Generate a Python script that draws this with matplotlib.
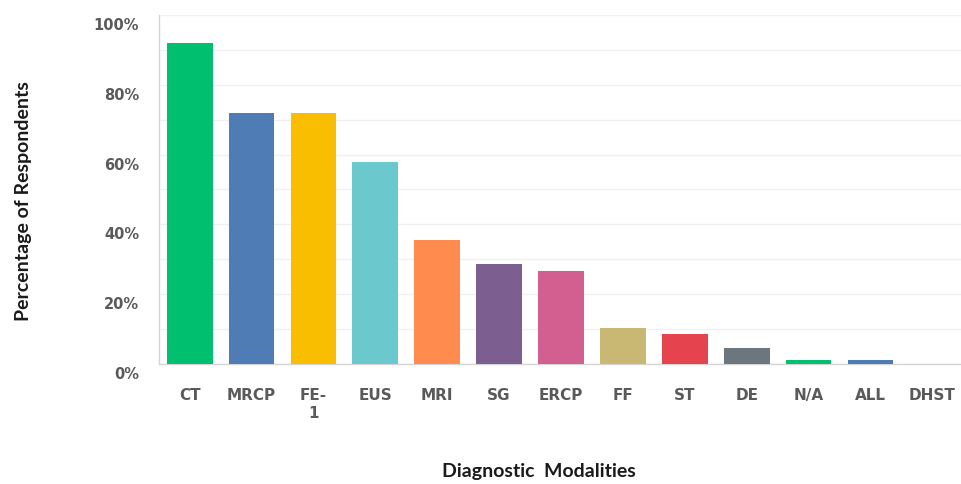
import matplotlib
matplotlib.use("Agg")
import matplotlib.pyplot as plt
import matplotlib.transforms as mtransforms

categories = ["CT", "MRCP", "FE-\n1", "EUS", "MRI", "SG", "ERCP", "FF", "ST", "DE", "N/A", "ALL", "DHST"]
values = [92, 72, 72, 58, 35.5, 28.7, 26.7, 10.2, 8.7, 4.7, 1.2, 1.1, 0]
colors = ["#00BF6F", "#507CB6", "#F9BE00", "#6BC8CD", "#FF8B4F", "#7D5E90",
          "#D25F90", "#C9B874", "#E5444F", "#6C767E", "#00BF6F", "#507CB6", "#D9D9D9"]
yticks = [0, 20, 40, 60, 80, 100]
ytick_labels = ["0%", "20%", "40%", "60%", "80%", "100%"]

fig = plt.figure(figsize=(9.62, 4.84), dpi=100)
ax = fig.add_axes([0.165, 0.248, 0.835, 0.721])

x = list(range(len(categories)))
ax.bar(x, values, width=0.74, color=colors, zorder=3)

ax.set_xlim(-0.5, 12.48)
ax.set_ylim(0, 100)
ax.set_yticks(yticks)
ax.set_yticks(list(range(10, 100, 20)), minor=True)
ax.yaxis.grid(True, which="both", color="#F0F0F0", linewidth=1.0, zorder=0)
ax.set_yticklabels(ytick_labels)
ax.set_xticks(x)
ax.set_xticklabels(categories)

for s in ["top", "right"]:
    ax.spines[s].set_visible(False)
for s in ["left", "bottom"]:
    ax.spines[s].set_color("#D5D5D5")
    ax.spines[s].set_linewidth(1.0)

ax.tick_params(axis="both", which="both", length=0)
ax.tick_params(axis="y", pad=14)
ax.tick_params(axis="x", pad=17)

offset = mtransforms.ScaledTranslation(0, -9 / 100, fig.dpi_scale_trans)
for lbl in ax.get_yticklabels():
    lbl.set_transform(lbl.get_transform() + offset)
    lbl.set_fontfamily(["DejaVu Sans"])
    lbl.set_fontweight("bold")
    lbl.set_fontsize(10.5)
    lbl.set_color("#5A5A5A")
for lbl in ax.get_xticklabels():
    lbl.set_fontfamily(["DejaVu Sans"])
    lbl.set_fontweight("bold")
    lbl.set_fontsize(11)
    lbl.set_color("#5A5A5A")
    lbl.set_linespacing(1.3)

fig.text(0.024, 0.585, "Percentage of Respondents", rotation=90, ha="center", va="center",
         fontsize=14, fontweight="bold", family=["Lato", "DejaVu Sans"], color="#1A1A1A")
fig.text(0.56, 0.025, "Diagnostic  Modalities", ha="center", va="center",
         fontsize=14, fontweight="bold", family=["Lato", "DejaVu Sans"], color="#1A1A1A")

fig.savefig("out.png", dpi=100)
